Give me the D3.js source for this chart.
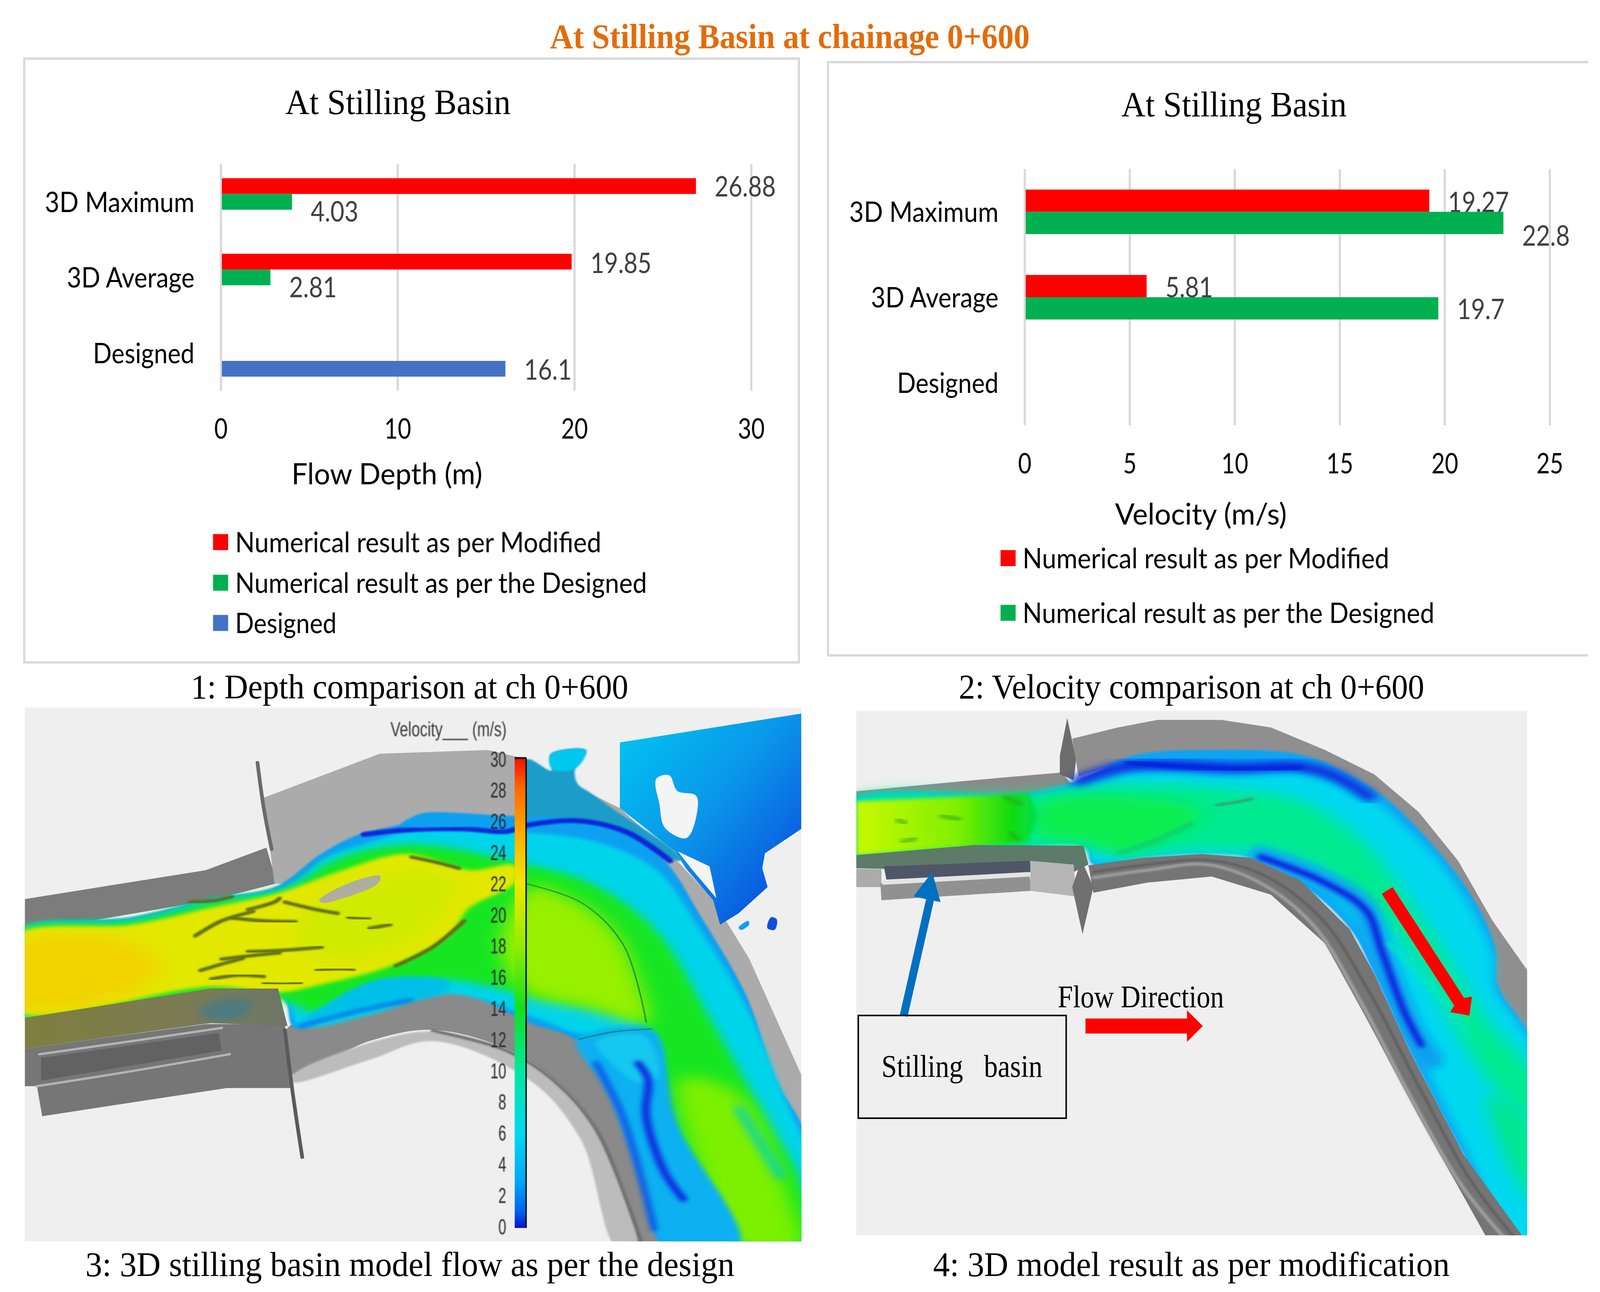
<!DOCTYPE html>
<html>
<head>
<meta charset="utf-8">
<script src="https://cdn.jsdelivr.net/npm/d3@7"></script>
<style>
  html, body { margin: 0; height: 100%; background: #fff; overflow: hidden; }
  svg { display: block; width: 100vw; height: 100vh; }
</style>
</head>
<body>
<svg id="page" viewBox="0 0 4352 3308" preserveAspectRatio="none"></svg>
<script>
// values
const categories = ["3D Maximum", "3D Average", "Designed"];
const depthSeries = ["Numerical result as per Modified", "Numerical result as per the Designed", "Designed"];
const depthModified = [26.88, 19.85, null];
const depthNumerical = [4.03, 2.81, null];
const depthDesigned = [null, null, 16.1];
const depthTicks = [0, 10, 20, 30];

const velocitySeries = ["Numerical result as per Modified", "Numerical result as per the Designed"];
const velocityModified = [19.27, 5.81, null];
const velocityNumerical = [22.8, 19.7, null];
const velocityTicks = [0, 5, 10, 15, 20, 25];

const colorbarTicks = d3.range(0, 31, 2);
const colorbarStops = [
  [0, "#0a10d0"], [1, "#0060f0"], [3, "#00a8f8"], [6, "#00d8f0"], [10, "#00e8a0"],
  [14, "#10e020"], [18, "#90ee00"], [22, "#f0e800"], [25, "#ffb000"], [28, "#ff6a00"], [30, "#f01000"]
];

const RED = "#ff0000", GREEN = "#00b050", BLUE = "#4472c4";
const CHART_FONT = "Lato, 'Noto Sans', sans-serif";
const SERIF = "'Liberation Serif', serif";

const svg = d3.select("#page");
const defs = svg.append("defs");

function addBlur(id, dev) {
  defs.append("filter").attr("id", id)
    .attr("x", "-20%").attr("y", "-20%").attr("width", "140%").attr("height", "140%")
    .append("feGaussianBlur").attr("stdDeviation", dev);
}
addBlur("blur2", 2);
addBlur("blur5", 5);
addBlur("blur10", 10);
addBlur("blur18", 18);
addBlur("textBlur", 1.3);

function addGradient(id, x1, y1, x2, y2, stops) {
  const g = defs.append("linearGradient").attr("id", id)
    .attr("x1", x1).attr("y1", y1).attr("x2", x2).attr("y2", y2);
  stops.forEach(s => g.append("stop").attr("offset", s[0]).attr("stop-color", s[1]));
}
addGradient("splash", 0, 0, 1, 1, [[0, "#00c8f0"], [0.45, "#0a98ea"], [0.8, "#0a60e0"], [1, "#0a30d8"]]);
addGradient("leftFlow", 0, 0, 1, 0, [[0, "#c8f800"], [0.55, "#80f000"], [0.85, "#10dc10"], [1, "#00e050"]]);
addGradient("olive", 0, 0, 1, 0, [[0, "#7f7f40"], [0.7, "#7a7a58"], [1, "#6c7668"]]);
addGradient("colorbar", 0, 1, 0, 0, colorbarStops.map(s => [s[0] / 30, s[1]]));

function putText(parent, str, x, y, size, opts = {}) {
  const t = parent.append("text")
    .attr("x", x).attr("y", y)
    .attr("font-family", opts.font || CHART_FONT)
    .attr("font-size", size)
    .attr("fill", opts.fill || "#000")
    .attr("text-anchor", opts.anchor || "start")
    .text(str);
  if (opts.weight) t.attr("font-weight", opts.weight);
  if (opts.width) t.attr("textLength", opts.width).attr("lengthAdjust", "spacingAndGlyphs");
  if (opts.pre) t.attr("xml:space", "preserve").style("white-space", "pre");
  return t;
}

function drawBars(cfg) {
  const g = svg.append("g");
  const x = d3.scaleLinear().domain([0, cfg.ticks[cfg.ticks.length - 1]]).range(cfg.xRange);
  const y0 = d3.scaleBand().domain(categories).range(cfg.yRange)
    .paddingInner(cfg.padding).paddingOuter(cfg.padding / 2);
  const y1 = d3.scaleBand().domain(cfg.series.map(s => s.name)).range([0, y0.bandwidth()]);

  // gridlines from the axis ticks
  g.append("g")
    .attr("transform", `translate(0,${cfg.yRange[1]})`)
    .call(d3.axisBottom(x).tickValues(cfg.ticks).tickSize(cfg.yRange[0] - cfg.yRange[1]).tickFormat(""))
    .call(a => a.select(".domain").remove())
    .call(a => a.selectAll("line").attr("stroke", "#d9d9d9").attr("stroke-width", 6));

  // tick labels
  g.append("g")
    .attr("transform", `translate(0,${cfg.tickY})`)
    .call(d3.axisBottom(x).tickValues(cfg.ticks).tickSize(0).tickPadding(0))
    .call(a => a.select(".domain").remove())
    .call(a => a.selectAll("text")
      .attr("y", 0).attr("dy", 0)
      .attr("font-family", CHART_FONT).attr("font-size", 72).attr("fill", "#000")
      .attr("textLength", d => String(d).length * 36.5)
      .attr("lengthAdjust", "spacingAndGlyphs"));

  // category labels
  g.append("g")
    .attr("transform", `translate(${cfg.catX},0)`)
    .call(d3.axisLeft(y0).tickSize(0).tickPadding(0))
    .call(a => a.select(".domain").remove())
    .call(a => a.selectAll("text")
      .attr("dy", 26)
      .attr("font-family", CHART_FONT).attr("font-size", 72).attr("fill", "#000")
      .attr("textLength", (d, i) => cfg.catWidths[i])
      .attr("lengthAdjust", "spacingAndGlyphs"));

  cfg.series.forEach((s, si) => {
    const rows = categories.map((c, i) => ({ c, v: s.values[i], i })).filter(d => d.v !== null);
    const offs = y1(s.name);
    g.selectAll(null).data(rows).join("rect")
      .attr("x", x(0) + 3)
      .attr("y", d => y0(d.c) + offs)
      .attr("width", d => x(d.v) - x(0) - 3)
      .attr("height", y1.bandwidth())
      .attr("fill", s.color);
    g.selectAll(null).data(rows).join("text")
      .attr("x", d => x(d.v) + 51)
      .attr("y", d => y0(d.c) + offs + y1.bandwidth() / 2 + 26 + cfg.labelNudge[si][d.i])
      .attr("font-family", CHART_FONT).attr("font-size", 72).attr("fill", "#404040")
      .attr("textLength", d => String(d.v).replace(".", "").length * 36.5 + 20)
      .attr("lengthAdjust", "spacingAndGlyphs")
      .text(d => d.v);
  });

  putText(g, cfg.title, cfg.titleX, cfg.titleY, 92, { font: SERIF, width: 613 });
  putText(g, cfg.xLabel, cfg.xLabelX, cfg.xLabelY, 76, { width: cfg.xLabelW });

  cfg.series.forEach((s, i) => {
    const ly = cfg.legendY[i];
    g.append("rect").attr("x", cfg.legendX).attr("y", ly - 20.5).attr("width", 41).attr("height", 41).attr("fill", s.color);
    putText(g, s.name, cfg.legendX + 60, ly + 26, 72, { width: cfg.legendW[i] });
  });
}

// frames
svg.append("rect").attr("x", 66).attr("y", 150).attr("width", 2107).attr("height", 1546)
  .attr("fill", "none").attr("stroke", "#d9d9d9").attr("stroke-width", 6);
svg.append("path").attr("d", "M4320,159H2252V1678H4320")
  .attr("fill", "none").attr("stroke", "#d9d9d9").attr("stroke-width", 6);

putText(svg, "At Stilling Basin at chainage 0+600", 1496, 123, 88,
  { font: SERIF, weight: "bold", fill: "#e36c0a", width: 1305 });

drawBars({
  ticks: depthTicks,
  xRange: [600.5, 2043],
  yRange: [420, 1000.6],
  padding: 0.375,
  tickY: 1123,
  catX: 529,
  catWidths: [407, 347, 276],
  labelNudge: [[1, 3, 0], [24, 25, 0], [0, 0, 2]],
  series: [
    { name: depthSeries[0], values: depthModified, color: RED },
    { name: depthSeries[1], values: depthNumerical, color: GREEN },
    { name: depthSeries[2], values: depthDesigned, color: BLUE }
  ],
  title: "At Stilling Basin", titleX: 776, titleY: 292,
  xLabel: "Flow Depth (m)", xLabelX: 793, xLabelY: 1240, xLabelW: 519,
  legendX: 579.5, legendY: [1388, 1492, 1595], legendW: [996, 1120, 276]
});

drawBars({
  ticks: velocityTicks,
  xRange: [2787, 4215],
  yRange: [433, 1089],
  padding: 0.479,
  tickY: 1212,
  catX: 2716,
  catWidths: [406, 347, 276],
  labelNudge: [[3, 2, 0], [32, 2, 0]],
  series: [
    { name: velocitySeries[0], values: velocityModified, color: RED },
    { name: velocitySeries[1], values: velocityNumerical, color: GREEN }
  ],
  title: "At Stilling Basin", titleX: 3050, titleY: 298,
  xLabel: "Velocity (m/s)", xLabelX: 3033, xLabelY: 1343, xLabelW: 467,
  legendX: 2721.5, legendY: [1429, 1569], legendW: [997, 1120]
});

// ---- model renderings, traced by hand in crop coordinates
const closedSmooth = d3.line().curve(d3.curveCatmullRomClosed.alpha(0.5));
const closedSharp = d3.line().curve(d3.curveLinearClosed);
const openSmooth = d3.line().curve(d3.curveCatmullRom.alpha(0.5));

function sharp(g, pts, fill) { return g.append("path").attr("d", closedSharp(pts)).attr("fill", fill); }
function soft(g, pts, fill, blur) {
  const p = g.append("path").attr("d", closedSmooth(pts)).attr("fill", fill);
  if (blur) p.attr("filter", `url(#${blur})`);
  return p;
}
function streak(g, pts, color, w, blur) {
  const p = g.append("path").attr("d", openSmooth(pts)).attr("fill", "none")
    .attr("stroke", color).attr("stroke-width", w).attr("stroke-linecap", "round");
  if (blur) p.attr("filter", `url(#${blur})`);
  return p;
}

function panel(id, sx, sy, box) {
  defs.append("clipPath").attr("id", id).append("rect")
    .attr("x", box[0]).attr("y", box[1]).attr("width", box[2] - box[0]).attr("height", box[3] - box[1]);
  const g = svg.append("g").attr("transform", `translate(${box.ox},1800) scale(${1 / sx},${1 / sy})`)
    .attr("clip-path", `url(#${id})`);
  g.append("rect").attr("x", box[0]).attr("y", box[1]).attr("width", box[2] - box[0]).attr("height", box[3] - box[1])
    .attr("fill", "#efefef");
  return g;
}

// panel 3, as per the design
const box3 = [47, 12, 1519, 1433]; box3.ox = 0;
const p3 = panel("clip3", 0.6969, 1.0398, box3);

sharp(p3, [[47,522],[390,445],[505,385],[525,480],[400,525],[47,610]], "#7c7c7c");
sharp(p3, [[500,252],[720,135],[925,125],[1000,150],[1110,235],[1175,280],[1270,400],[1350,520],[1420,680],[1519,990],[1519,1433],[1300,1433],[1000,500],[520,480]], "#ababab");
streak(p3, [[488,158],[500,280],[515,390]], "#6a6a6a", 7);

// splash on the right bank
sharp(p3, [[1175,105],[1519,28],[1519,335],[1450,400],[1445,440],[1455,490],[1400,560],[1365,590],[1352,525],[1300,440],[1280,395],[1175,280]], "url(#splash)");
soft(p3, [[1245,200],[1268,192],[1285,235],[1318,245],[1322,285],[1300,360],[1262,335],[1250,270]], "#f4f4f4");
sharp(p3, [[1285,395],[1345,435],[1358,520],[1310,440]], "#f4f4f4");
soft(p3, [[1400,598],[1418,580],[1420,590],[1405,604]], "#10a0f0");
soft(p3, [[1455,600],[1462,570],[1472,575],[1468,604]], "#0a50e0");
soft(p3, [[1000,150],[1045,180],[1045,135],[1110,125],[1090,175],[1095,215],[1120,240],[1165,285],[1280,395],[1290,420],[1100,320],[1000,320]], "#1a9cc8", "blur2");
soft(p3, [[1045,135],[1110,125],[1090,175],[1048,178]], "#00c8ee", "blur2");

// lower walls
soft(p3, [[545,865],[700,810],[850,760],[1000,830],[1110,900],[1210,1100],[1290,1450],[1210,1450],[1130,1130],[1050,1000],[960,920],[820,870],[700,900],[555,990]], "#8a8a8a");
soft(p3, [[555,990],[700,905],[820,875],[960,925],[1050,1005],[1130,1135],[1205,1450],[1170,1450],[1100,1160],[1000,1000],[820,900],[700,950],[555,1010]], "#bcbcbc", "blur2");
streak(p3, [[820,872],[960,925],[1050,1005],[1130,1135],[1215,1433]], "#707070", 8, "blur2");

// main flow, outer to inner
const p3flow = p3.append("g");
soft(p3flow, [[47,605],[250,570],[400,520],[520,490],[610,400],[680,350],[770,318],[800,295],[960,300],[1100,310],[1180,340],[1260,420],[1325,560],[1415,780],[1470,1000],[1530,1160],[1540,1450],[1265,1450],[1220,1250],[1150,1020],[1095,900],[1000,850],[850,760],[700,810],[560,865],[530,780],[47,835]], "#10a0f0", "blur2");
soft(p3flow, [[30,605],[250,575],[400,525],[540,490],[620,410],[690,375],[800,335],[1000,345],[1130,370],[1240,440],[1325,600],[1415,810],[1490,1060],[1530,1200],[1540,1450],[1400,1450],[1300,1200],[1240,900],[1100,880],[1000,830],[850,775],[700,830],[570,860],[530,780],[30,835]], "#00d4ea", "blur5");
soft(p3flow, [[30,610],[250,580],[400,530],[540,495],[625,425],[700,390],[800,378],[1000,430],[1120,480],[1240,600],[1350,850],[1450,1100],[1519,1280],[1530,1450],[1380,1450],[1310,1250],[1260,1000],[1220,860],[1000,780],[850,738],[720,775],[600,825],[530,790],[30,825]], "#14e620", "blur10");
soft(p3flow, [[1010,490],[1080,520],[1160,600],[1210,740],[1225,850],[1110,810],[1000,770],[950,640]], "#96f000", "blur18");
soft(p3flow, [[1290,1000],[1400,1040],[1500,1340],[1515,1450],[1400,1450],[1320,1220]], "#7cf000", "blur18");

// fringe of slow water under the jet
soft(p3flow, [[560,862],[620,800],[720,735],[850,740],[850,765],[700,812]], "#00c0ea", "blur5");
streak(p3flow, [[570,860],[680,820],[780,790]], "#0a60e8", 8, "blur5");

// separated zone next to the inner bend
soft(p3flow, [[1095,895],[1235,870],[1275,1100],[1400,1445],[1265,1445],[1220,1280],[1150,1030]], "#10b0f0", "blur5");
soft(p3flow, [[1130,900],[1220,885],[1245,1000],[1210,1010],[1160,960]], "#18c8f0", "blur5");
streak(p3flow, [[1210,960],[1228,1000],[1225,1100],[1260,1250],[1295,1320]], "#0a30e0", 16, "blur5");
streak(p3flow, [[1130,960],[1180,1100],[1240,1400]], "#0a60e8", 14, "blur5");
streak(p3flow, [[1400,1080],[1480,1260]], "#00d0c0", 16, "blur10");

// fast jet in the basin
soft(p3flow, [[30,618],[250,590],[400,545],[530,505],[650,445],[770,402],[890,445],[975,432],[975,480],[890,545],[850,620],[740,700],[600,752],[530,770],[400,755],[30,820]], "#e2e800", "blur5");
soft(p3flow, [[30,640],[220,625],[310,700],[230,785],[30,812]], "#f2d400", "blur18");
soft(p3flow, [[610,520],[790,450],[860,470],[800,610],[660,680],[560,640]], "#d0ea00", "blur18");

// top edge, dark blue
streak(p3, [[690,350],[770,338],[880,335],[960,342],[1000,325],[1100,314],[1190,345],[1270,420]], "#0a28d8", 13, "blur2");
soft(p3, [[760,325],[800,295],[900,305],[960,320],[860,330]], "#10a0ee", "blur2");

// surface ripples
const ripples = [
  [[370,620],[420,580],[480,555]], [[440,572],[500,580],[560,582]], [[470,662],[540,658],[610,650]],
  [[420,682],[480,672],[530,665]], [[380,712],[420,695],[460,680]], [[500,745],[535,748],[570,745]],
  [[600,712],[640,708],[670,710]], [[660,570],[680,574],[700,575]], [[700,600],[720,595],[740,590]],
  [[780,410],[830,425],[870,440]], [[750,700],[820,650],[880,580]], [[540,530],[600,550],[640,560]],
  [[400,735],[450,725],[500,728]], [[470,550],[520,530],[530,520]], [[360,530],[410,525],[440,515]]
];
ripples.forEach(r => streak(p3, r, "#5e6e18", 9, "blur2"));
soft(p3, [[605,525],[660,480],[720,460],[715,482],[650,520],[612,532]], "#aeae9e");
streak(p3, [[1000,482],[1100,530],[1180,640],[1225,850]], "#2a9a30", 3);
streak(p3, [[1098,895],[1165,875],[1235,868]], "#108a70", 3);

// structure at the lower left
sharp(p3, [[47,920],[390,855],[540,855],[556,1025],[430,1025],[80,1100],[70,1020],[47,1020]], "#767676");
sharp(p3, [[47,838],[400,760],[527,760],[545,860],[400,852],[47,920]], "url(#olive)");
soft(p3, [[380,815],[440,785],[480,800],[450,840],[390,840]], "#4e7a80", "blur10");
streak(p3, [[75,935],[250,900],[420,865]], "#b4b4b4", 6);
streak(p3, [[70,1020],[250,980],[435,935]], "#b4b4b4", 6);
sharp(p3, [[78,945],[415,878],[420,925],[78,1005]], "#626262");
streak(p3, [[540,870],[555,1040],[573,1210]], "#5a5a5a", 7);

// panel 4, as per modification
const box4 = [59, 21, 1420, 1417]; box4.ox = 2250;
const p4 = panel("clip4", 0.7459, 1.0398, box4);

sharp(p4, [[59,235],[300,205],[475,185],[495,215],[400,245],[59,268]], "#8a8a8a");
sharp(p4, [[487,40],[505,150],[500,205],[472,190],[472,140]], "#6c6c6c");
sharp(p4, [[497,95],[590,65],[670,45],[800,45],[900,65],[1010,125],[1110,190],[1200,290],[1280,420],[1350,580],[1425,720],[1425,930],[1350,760],[1300,600],[1200,400],[1100,280],[1000,180],[900,140],[650,135],[510,195]], "#8f8f8f");

soft(p4, [[40,262],[400,240],[510,205],[620,140],[800,125],[950,135],[1030,170],[1130,250],[1230,380],[1310,520],[1355,650],[1360,750],[1440,930],[1440,1440],[1400,1440],[1290,1200],[1180,920],[1110,720],[1060,600],[960,480],[860,410],[760,400],[640,410],[540,430],[520,380],[40,405]], "#10a4f2", "blur2");
soft(p4, [[40,265],[400,250],[510,225],[640,180],[800,190],[950,180],[1060,220],[1190,350],[1285,500],[1350,670],[1355,760],[1440,940],[1440,1440],[1400,1440],[1300,1200],[1190,900],[1120,690],[1040,540],[950,460],[860,415],[760,405],[640,415],[540,425],[520,380],[40,405]], "#00d8f0", "blur10");
soft(p4, [[40,265],[400,245],[520,225],[640,215],[800,225],[960,260],[1080,360],[1180,520],[1270,700],[1330,830],[1440,1000],[1440,1120],[1340,1000],[1200,700],[1100,540],[960,420],[800,390],[600,400],[520,380],[40,400]], "#00ea90", "blur18");
soft(p4, [[430,270],[620,250],[760,290],[720,340],[600,400],[520,370],[430,350]], "#10ee50", "blur18");
soft(p4, [[1340,1040],[1440,1130],[1440,1330],[1380,1220]], "#00e890", "blur18");
sharp(p4, [[59,262],[300,248],[410,240],[430,300],[405,372],[300,380],[59,405]], "url(#leftFlow)").attr("filter", "url(#blur5)");

const p4Spots = [[[150,370],[180,360]], [[230,300],[270,310]], [[360,250],[395,270]], [[370,345],[390,365]], [[140,310],[160,320]]];
p4Spots.forEach(s => streak(p4, s, "#30a020", 7, "blur5"));
streak(p4, [[790,272],[825,265],[862,255]], "#30a878", 8, "blur2");
streak(p4, [[590,400],[660,370],[740,320]], "#10c070", 7, "blur5");

// dark streaks along both banks
streak(p4, [[510,205],[600,170],[700,165],[830,172],[960,170],[1030,195],[1100,250]], "#0a28e0", 26, "blur10");
streak(p4, [[610,158],[700,168],[830,176],[960,172]], "#0020e0", 13, "blur5");
streak(p4, [[880,408],[1000,470],[1085,540],[1110,620],[1150,760],[1190,880],[1225,950]], "#10a0f0", 50, "blur10");
streak(p4, [[880,410],[1000,472],[1092,550],[1125,660],[1170,820],[1205,910]], "#0a28e0", 15, "blur5");
streak(p4, [[1140,640],[1230,760],[1300,880]], "#00e8c0", 10, "blur5");

// lower bank
sharp(p4, [[530,432],[640,412],[760,402],[860,412],[960,472],[1060,602],[1110,722],[1180,922],[1290,1200],[1422,1440],[1345,1440],[1200,1100],[1090,830],[1010,640],[900,510],[780,462],[650,478],[540,505]], "#757575");
streak(p4, [[540,465],[650,445],[770,430],[880,480],[985,590],[1080,790],[1180,1040],[1290,1290],[1385,1440]], "#9e9e9e", 8, "blur2");
streak(p4, [[540,450],[650,430],[770,418],[880,455],[1000,570],[1100,770],[1200,1020],[1310,1280],[1405,1440]], "#5f5f5f", 6, "blur2");

// gates and the structure under the basin
sharp(p4, [[59,405],[300,378],[520,380],[530,430],[500,450],[59,440]], "#5e7a68");
sharp(p4, [[59,442],[110,442],[110,490],[59,490]], "#ababab");
sharp(p4, [[108,480],[410,458],[415,500],[110,525]], "#919191");
sharp(p4, [[115,435],[410,420],[415,450],[120,470]], "#4e5668");
sharp(p4, [[112,472],[410,450],[412,462],[112,484]], "#e4e4e4");
sharp(p4, [[412,420],[500,430],[505,515],[412,500]], "#b5b5b5");
sharp(p4, [[520,430],[540,490],[518,615],[497,490],[510,440]], "#707070");

// annotations on panel 4
sharp(p4, [[147,832],[201,520],[217,523],[163,835]], "#0070c0");
sharp(p4, [[213,450],[175,515],[230,530]], "#0070c0");
sharp(p4, [[524,840],[730,840],[730,818],[762,860],[730,902],[730,880],[524,880]], "#ff0000");
sharp(p4, [[1125,508],[1147,490],[1292,785],[1308,782],[1303,832],[1264,823],[1272,805]], "#ff0000");

svg.append("rect").attr("x", 2334.5).attr("y", 2600).attr("width", 565.5).attr("height", 263)
  .attr("fill", "none").attr("stroke", "#000").attr("stroke-width", 4);
putText(svg, "Stilling   basin", 2397.5, 2757, 80, { font: SERIF, width: 438, pre: true });
putText(svg, "Flow Direction", 2877, 2579, 80, { font: SERIF, width: 452 });

// colorbar of panel 3
const cbY = d3.scaleLinear().domain([0, 30]).range([3139, 1942]);
svg.append("rect").attr("x", 1400).attr("y", 1940).attr("width", 31).attr("height", 1204).attr("fill", "url(#colorbar)");
svg.append("line").attr("x1", 1431).attr("x2", 1431).attr("y1", 1940).attr("y2", 3144).attr("stroke", "#111").attr("stroke-width", 4);
svg.append("line").attr("x1", 1400).attr("x2", 1431).attr("y1", 1941).attr("y2", 1941).attr("stroke", "#200").attr("stroke-width", 5);
svg.append("g")
  .attr("transform", "translate(1377,0)")
  .attr("filter", "url(#textBlur)")
  .call(d3.axisLeft(cbY).tickValues(colorbarTicks).tickSize(0).tickPadding(0))
  .call(a => a.select(".domain").remove())
  .call(a => a.selectAll("text")
    .attr("dy", 20)
    .attr("font-family", "'Liberation Sans', sans-serif").attr("font-size", 55).attr("fill", "#2c2c2c")
    .attr("textLength", d => String(d).length * 21.5)
    .attr("lengthAdjust", "spacingAndGlyphs"));
putText(svg, "Velocity___ (m/s)", 1062, 1885, 52,
  { font: "'Liberation Sans', sans-serif", fill: "#3a3a3a", width: 316 }).attr("filter", "url(#textBlur)");

// captions
const captions = ["1: Depth comparison at ch 0+600", "2: Velocity comparison at ch 0+600",
  "3: 3D stilling basin model flow as per the design", "4: 3D model result as per modification"];
putText(svg, captions[0], 519, 1788, 88, { font: SERIF, width: 1190 });
putText(svg, captions[1], 2608, 1788, 88, { font: SERIF, width: 1266 });
putText(svg, captions[2], 232.5, 3267, 88, { font: SERIF, width: 1765 });
putText(svg, captions[3], 2538, 3267, 88, { font: SERIF, width: 1405 });
</script>
</body>
</html>
